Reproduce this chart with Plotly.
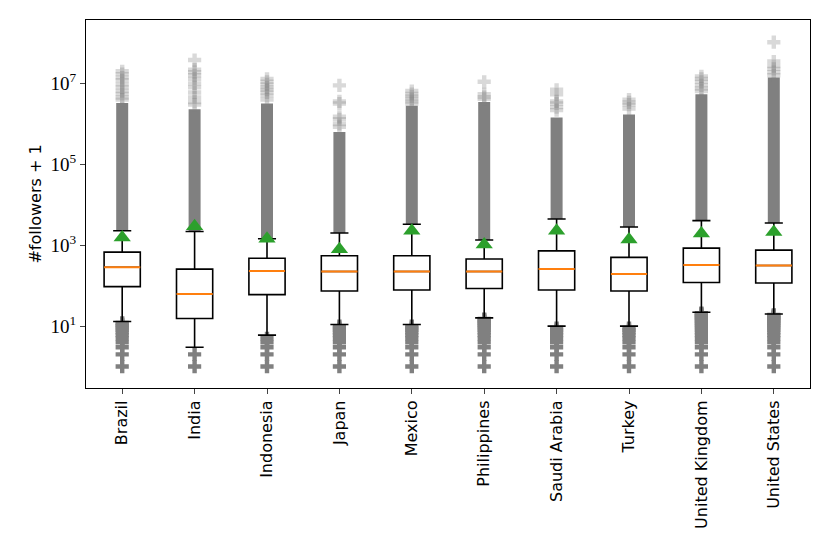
import plotly.graph_objects as go

countries = ["Brazil", "India", "Indonesia", "Japan", "Mexico", "Philippines",
             "Saudi Arabia", "Turkey", "United Kingdom", "United States"]

# box statistics (#followers + 1)
q1 = [95, 15.5, 60, 74, 78, 85, 78, 74, 120, 117]
median = [285, 62, 230, 224, 224, 224, 257, 195, 324, 316]
q3 = [676, 257, 479, 550, 550, 457, 724, 501, 851, 759]
lower_whisker = [13, 3, 6, 11, 11, 16, 10, 10, 22, 20]
upper_whisker = [2290, 2190, 1450, 2000, 3310, 1350, 4470, 2820, 4070, 3550]
means = [1550, 2950, 1450, 795, 2290, 1050, 2290, 1380, 1950, 2140]

# top of the solid column of outliers above the upper whisker
dense_top = [3.3e6, 2.3e6, 3.2e6, 6.3e5, 2.8e6, 3.5e6, 1.45e6, 1.7e6, 5.4e6, 1.4e7]

# sparse high outliers (light crosses)
high_outliers = [
    [2.0e7, 1.7e7, 1.4e7, 1.2e7, 9.5e6, 8e6, 6.5e6, 5.5e6, 4.5e6, 4e6],
    [3.8e7, 2.2e7, 1.9e7, 1.6e7, 1.3e7, 1.0e7, 8e6, 6e6, 4.5e6, 3.5e6, 3e6],
    [1.3e7, 1.1e7, 9.5e6, 8e6, 7e6, 6e6, 5e6, 4e6],
    [9e6, 3.6e6, 3.2e6, 1.5e6, 1.3e6, 1e6, 8.5e5],
    [6.5e6, 5.5e6, 4.8e6, 4.2e6, 3.6e6, 3.2e6],
    [1.1e7, 5.4e6, 4.6e6, 4.2e6],
    [7e6, 5.4e6, 3.6e6, 3.2e6, 2.6e6, 2.2e6],
    [4e6, 3.4e6, 3e6, 2.4e6],
    [1.5e7, 1.3e7, 1.1e7, 9e6, 7.5e6, 6.5e6],
    [1.05e8, 3.5e7, 2.7e7, 2.3e7, 1.9e7, 1.6e7],
]

# low outliers (integer values below the lower whisker)
low_outliers = [
    [1, 2, 3, 4, 5, 6, 7, 8, 9, 10, 11, 12],
    [1, 2],
    [1, 2, 3, 4, 5],
    [1, 2, 3, 4, 5, 6, 7, 8, 9, 10],
    [1, 2, 3, 4, 5, 6, 7, 8, 9, 10],
    [1, 2, 3, 4, 5, 6, 7, 8, 9, 10, 11, 12, 13, 14, 15],
    [1, 2, 3, 4, 5, 6, 7, 8, 9],
    [1, 2, 3, 4, 5, 6, 7, 8, 9],
    [1, 2, 3, 4, 5, 6, 7, 8, 9, 10, 11, 12, 13, 14, 15, 16, 17, 18, 19, 20, 21],
    [1, 2, 3, 4, 5, 6, 7, 8, 9, 10, 11, 12, 13, 14, 15, 16, 17, 18, 19],
]

GRAY = "#808080"
Y_RANGE = [-0.53, 8.57]

fig = go.Figure()

# solid outlier columns
col_x, col_y = [], []
for c, lo, hi in zip(countries, upper_whisker, dense_top):
    col_x += [c, c, None]
    col_y += [lo, hi, None]
fig.add_trace(go.Scatter(x=col_x, y=col_y, mode="lines",
                         line=dict(color=GRAY, width=12), hoverinfo="skip"))

hx, hy, lx, ly = [], [], [], []
for c, hi_pts, lo_pts in zip(countries, high_outliers, low_outliers):
    hx += [c] * len(hi_pts)
    hy += hi_pts
    lx += [c] * len(lo_pts)
    ly += lo_pts
fig.add_trace(go.Scatter(x=hx, y=hy, mode="markers",
                         marker=dict(symbol="cross", size=11, color="rgba(128,128,128,0.3)",
                                     line=dict(width=0))))
fig.add_trace(go.Scatter(x=lx, y=ly, mode="markers",
                         marker=dict(symbol="cross", size=11, color=GRAY, line=dict(width=0))))

# boxes on an overlaid axis so they sit above the outliers
fig.add_trace(go.Box(x=countries, q1=q1, median=median, q3=q3,
                     lowerfence=lower_whisker, upperfence=upper_whisker,
                     width=0.5, whiskerwidth=0.5, fillcolor="white",
                     line=dict(color="black", width=1.6), boxpoints=False,
                     yaxis="y2"))
fig.add_trace(go.Box(x=countries, q1=median, median=median, q3=median,
                     lowerfence=median, upperfence=median,
                     width=0.5, whiskerwidth=0, fillcolor="rgba(0,0,0,0)",
                     line=dict(color="#ff7f0e", width=2), boxpoints=False,
                     yaxis="y2"))
fig.add_trace(go.Scatter(x=countries, y=means, mode="markers", yaxis="y2",
                         marker=dict(symbol="triangle-up", size=15, color="#2ca02c")))

yaxis_common = dict(type="log", range=Y_RANGE, showgrid=False, zeroline=False,
                    automargin=False)
# the page body adds an 8px offset, margins compensate for it
fig.update_layout(
    width=830, height=554,
    margin=dict(l=78, r=28, t=12, b=174),
    plot_bgcolor="white", paper_bgcolor="white",
    showlegend=False, boxmode="overlay",
    font=dict(family="DejaVu Sans", size=16, color="black"),
    xaxis=dict(range=[-0.5, 9.5], tickangle=-90, ticks="outside", ticklen=5,
               tickwidth=1.2, showline=True, linecolor="black", linewidth=1.2,
               mirror=True, showgrid=False, automargin=False,
               tickfont=dict(family="DejaVu Sans", size=16)),
    yaxis=dict(**yaxis_common, tickvals=[10, 1e3, 1e5, 1e7],
               ticktext=["10<sup>1</sup>", "10<sup>3</sup>", "10<sup>5</sup>", "10<sup>7</sup>"],
               ticks="outside", ticklen=5, tickwidth=1.2, showline=True,
               linecolor="black", linewidth=1.2, mirror=True,
               tickfont=dict(family="Liberation Serif", size=19),
               title=dict(text="#followers + 1", font=dict(family="DejaVu Sans", size=16),
                          standoff=4)),
    yaxis2=dict(**yaxis_common, overlaying="y", visible=False),
)

fig.write_html("out.html")
